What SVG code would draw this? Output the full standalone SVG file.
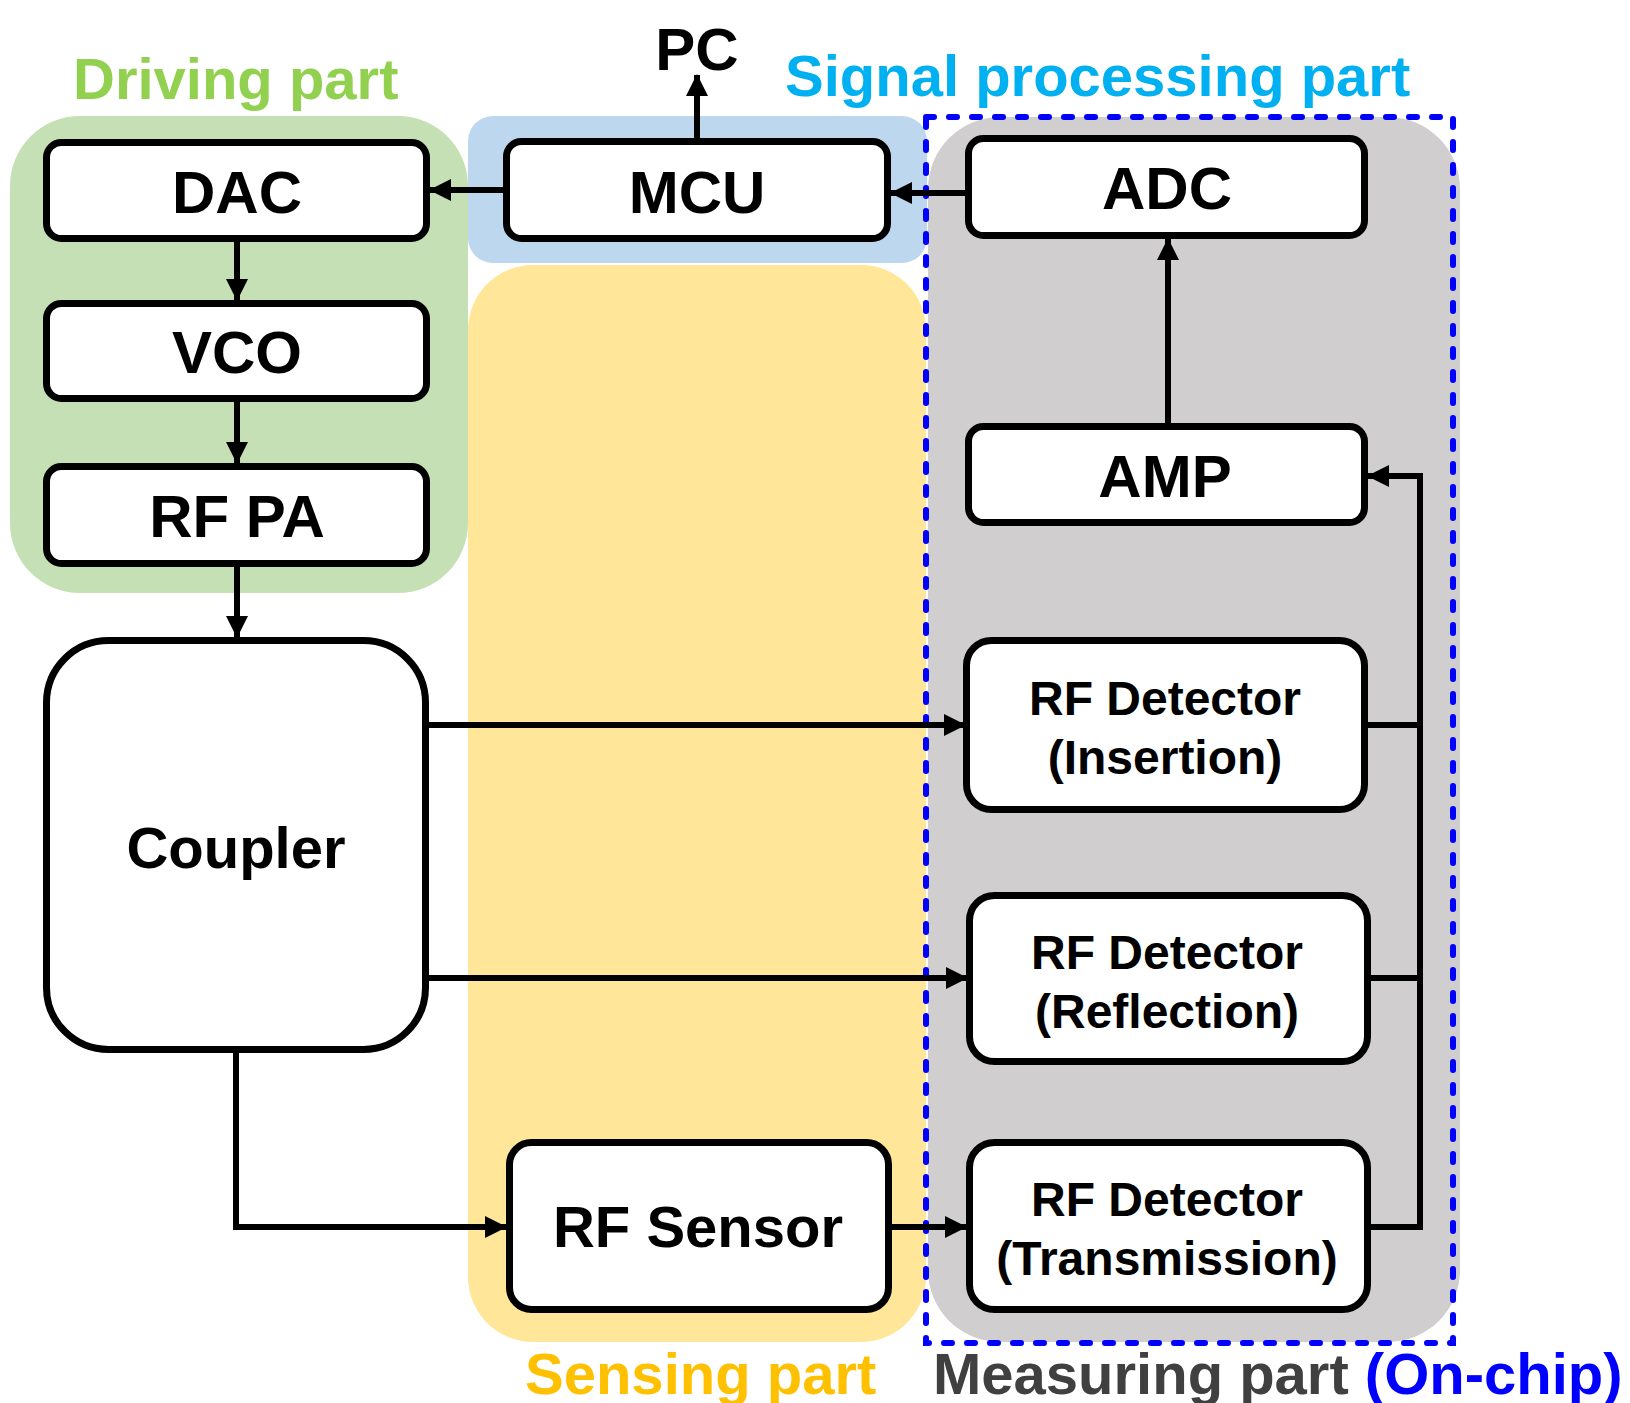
<svg xmlns="http://www.w3.org/2000/svg" width="1630" height="1403" viewBox="0 0 1630 1403">
<style>
text{font-family:"Liberation Sans",Arial,sans-serif;font-weight:bold;text-anchor:middle}
.box{fill:#fff;stroke:#000;stroke-width:7}
.t{font-size:60px;fill:#000}
.d{font-size:48px;fill:#000}
.c{fill:none;stroke:#000;stroke-width:6}
.lbl{font-size:58px;text-anchor:start}
</style>
<defs>
<marker id="ah" markerUnits="userSpaceOnUse" markerWidth="22" markerHeight="22" refX="21" refY="11" orient="auto">
<path d="M0,0 L22,11 L0,22 z" fill="#000"/>
</marker>
</defs>
<g id="backgrounds">
<rect x="10" y="116" width="458" height="477" rx="70" fill="#C5E0B4"/>
<rect x="468" y="116" width="459" height="147" rx="25" fill="#BDD7EE"/>
<rect x="468" y="265" width="458" height="1077" rx="65" fill="#FFE699"/>
<rect x="928" y="117" width="532" height="1225" rx="72" fill="#D0CECE"/>
<rect x="926" y="117" width="527" height="1226" fill="none" stroke="#0000FF" stroke-width="6" stroke-dasharray="8 15" stroke-linecap="round"/>
</g>
<g id="labels">
<text class="lbl" x="73" y="99" fill="#92D050">Driving part</text>
<text class="lbl" x="785" y="96" fill="#00B0F0">Signal processing part</text>
<text class="lbl" x="525" y="1394" fill="#FFC000">Sensing part</text>
<text class="lbl" x="933" y="1394" fill="#404040">Measuring part <tspan fill="#0000FF">(On-chip)</tspan></text>
<text class="t" x="697" y="70">PC</text>
</g>
<g id="connectors">
<line class="c" x1="503" y1="190" x2="430" y2="190" marker-end="url(#ah)"/>
<line class="c" x1="965" y1="193" x2="891" y2="193" marker-end="url(#ah)"/>
<line class="c" x1="697" y1="138" x2="697" y2="75" marker-end="url(#ah)"/>
<line class="c" x1="237" y1="242" x2="237" y2="300" marker-end="url(#ah)"/>
<line class="c" x1="237" y1="402" x2="237" y2="463" marker-end="url(#ah)"/>
<line class="c" x1="237" y1="567" x2="237" y2="637" marker-end="url(#ah)"/>
<line class="c" x1="429" y1="725" x2="965" y2="725" marker-end="url(#ah)"/>
<line class="c" x1="429" y1="978" x2="967" y2="978" marker-end="url(#ah)"/>
<polyline class="c" points="236,1053 236,1227 506,1227" marker-end="url(#ah)"/>
<line class="c" x1="892" y1="1227" x2="966" y2="1227" marker-end="url(#ah)"/>
<line class="c" x1="1368" y1="725" x2="1420" y2="725"/>
<line class="c" x1="1371" y1="978" x2="1420" y2="978"/>
<line class="c" x1="1371" y1="1227" x2="1420" y2="1227"/>
<polyline class="c" points="1420,1230 1420,476 1368,476" marker-end="url(#ah)"/>
<line class="c" x1="1168" y1="423" x2="1168" y2="239" marker-end="url(#ah)"/>
</g>
<g id="dac"><rect class="box" x="46.5" y="142.5" width="380" height="96" rx="15"/><text class="t" x="237" y="213">DAC</text></g>
<g id="vco"><rect class="box" x="46.5" y="303.5" width="380" height="95" rx="15"/><text class="t" x="237" y="373">VCO</text></g>
<g id="rfpa"><rect class="box" x="46.5" y="466.5" width="380" height="97" rx="15"/><text class="t" x="237" y="537">RF PA</text></g>
<g id="coupler"><rect class="box" x="46.5" y="640.5" width="379" height="409" rx="62"/><text class="t" x="236" y="868" style="font-size:58px">Coupler</text></g>
<g id="mcu"><rect class="box" x="506.5" y="141.5" width="381" height="97" rx="15"/><text class="t" x="697" y="213">MCU</text></g>
<g id="adc"><rect class="box" x="968.5" y="138.5" width="396" height="97" rx="15"/><text class="t" x="1167" y="209">ADC</text></g>
<g id="amp"><rect class="box" x="968.5" y="426.5" width="396" height="96" rx="15"/><text class="t" x="1165" y="497">AMP</text></g>
<g id="det-insertion"><rect class="box" x="966.5" y="640.5" width="398" height="169" rx="25"/><text class="d" x="1165" y="715">RF Detector</text><text class="d" x="1165" y="774">(Insertion)</text></g>
<g id="det-reflection"><rect class="box" x="969.5" y="895.5" width="398" height="166" rx="25"/><text class="d" x="1167" y="969">RF Detector</text><text class="d" x="1167" y="1028">(Reflection)</text></g>
<g id="det-transmission"><rect class="box" x="969.5" y="1142.5" width="398" height="167" rx="25"/><text class="d" x="1167" y="1216">RF Detector</text><text class="d" x="1167" y="1275">(Transmission)</text></g>
<g id="rf-sensor"><rect class="box" x="509.5" y="1142.5" width="379" height="167" rx="22"/><text class="t" x="698" y="1247" style="font-size:58px">RF Sensor</text></g>
</svg>
